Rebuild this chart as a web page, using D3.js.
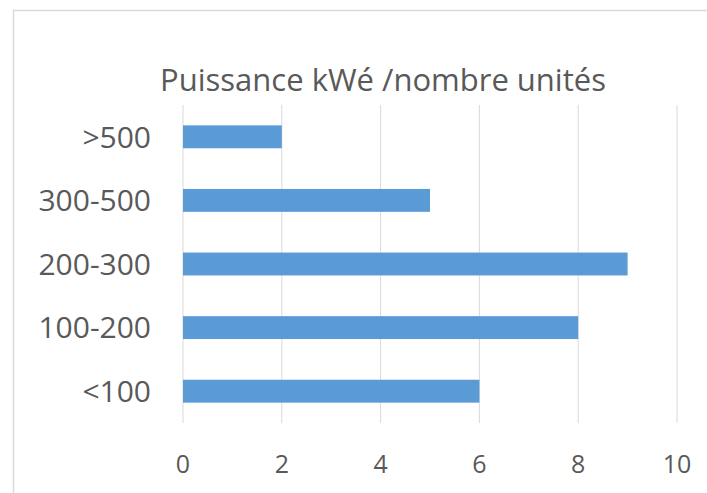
<!DOCTYPE html>
<html><head><meta charset="utf-8">
<script src="https://cdn.jsdelivr.net/npm/d3@7"></script>
<style>body{margin:0;background:#fff}</style></head>
<body><svg id="c" width="707" height="493"></svg>
<script>
const categories = [">500", "300-500", "200-300", "100-200", "<100"];
const values = [2, 5, 9, 8, 6];
const ticks = [0, 2, 4, 6, 8, 10];
const title = "Puissance kWé /nombre unités";

const svg = d3.select("#c");
const font = "'Open Sans', 'Liberation Sans', sans-serif";
svg.append("rect").attr("x",0).attr("y",0).attr("width",707).attr("height",493).attr("fill","#fff");
// border
svg.append("path").attr("d","M13.5,493 L13.5,10.5 L707,10.5").attr("fill","none").attr("stroke","#d9d9d9").attr("stroke-width",1.5);

const x = d3.scaleLinear().domain([0,10]).range([183,677]);
const y = d3.scaleBand().domain(categories).range([105,423]).paddingInner(0.64).paddingOuter(0.32);

svg.append("g").selectAll("line").data(ticks).join("line")
  .attr("x1",d=>x(d)).attr("x2",d=>x(d)).attr("y1",105).attr("y2",423)
  .attr("stroke","#d9d9d9").attr("stroke-width",1);

svg.append("g").selectAll("rect").data(values).join("rect")
  .attr("x",x(0)).attr("y",(d,i)=>y(categories[i]))
  .attr("width",d=>x(d)-x(0)).attr("height",y.bandwidth())
  .attr("fill","#5b9bd5");

svg.append("g").selectAll("text").data(categories).join("text")
  .attr("x",151).attr("y",d=>y(d)+y.bandwidth()/2).attr("dy","0.36em")
  .attr("text-anchor","end").attr("font-family",font).attr("font-size",30).attr("fill","#595959").text(d=>d);

svg.append("g").selectAll("text").data(ticks).join("text")
  .attr("x",d=>x(d)).attr("y",464).attr("dy","0.36em")
  .attr("text-anchor","middle").attr("font-family",font).attr("font-size",25).attr("fill","#595959").text(d=>d);

svg.append("text").attr("x",383).attr("y",80).attr("dy","0.36em").attr("text-anchor","middle")
  .attr("font-family",font).attr("font-size",31).attr("fill","#595959").text(title);
</script></body></html>
